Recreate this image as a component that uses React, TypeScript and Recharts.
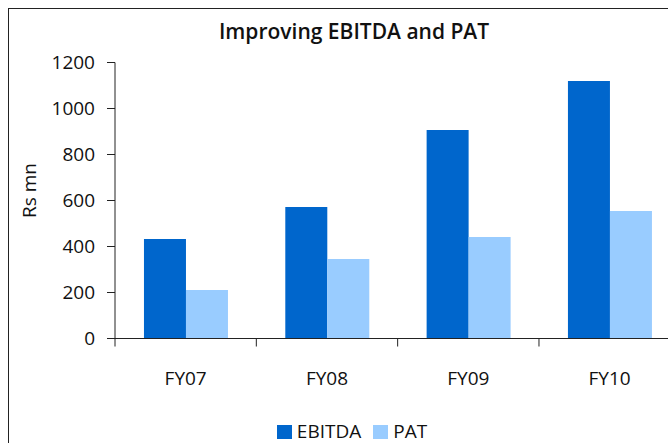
import { BarChart, Bar, XAxis, YAxis } from 'recharts';

const years = ['FY07', 'FY08', 'FY09', 'FY10'];
const ebitda = [433, 572, 906, 1120];
const pat = [211, 346, 441, 554];
const yTicks = [0, 200, 400, 600, 800, 1000, 1200];

const seriesColors = { EBITDA: '#0066CC', PAT: '#99CCFF' };
const FONT = '"Open Sans", "DejaVu Sans", sans-serif';
const INK = '#111111';

const data = years.map((year, i) => ({ year, EBITDA: ebitda[i], PAT: pat[i] }));

// Excel-style category ticks: tick marks sit between categories, labels in the middle
const CategoryTick = (props: any) => {
  const { x, y, payload } = props;
  const half = payload?.offset ?? 70.65;
  return (
    <g>
      <line x1={x - half} x2={x - half} y1={y - 8} y2={y} stroke="#222" strokeWidth={1} />
      <text
        x={x}
        y={y + 31}
        textAnchor="middle"
        dominantBaseline="central"
        fill={INK}
        fontSize={19}
        fontFamily={FONT}
      >
        {payload.value}
      </text>
    </g>
  );
};

const AxisTitle = (props: any) => {
  const { x, y, height } = props.viewBox;
  const cx = x + 19.5;
  const cy = y + height / 2 - 10;
  return (
    <text
      x={cx}
      y={cy}
      transform={`rotate(-90 ${cx} ${cy})`}
      textAnchor="middle"
      dominantBaseline="central"
      fill={INK}
      fontSize={19}
      fontFamily={FONT}
    >
      Rs mn
    </text>
  );
};

export default function App() {
  return (
    <div style={{ position: 'fixed', left: 0, top: 0, width: 668, height: 443, overflow: 'hidden', background: '#fff' }}>
      <div
        style={{
          position: 'absolute',
          left: 8,
          top: 8,
          width: 720,
          height: 480,
          border: '1px solid #222',
          fontFamily: FONT,
        }}
      >
        <div
          style={{
            position: 'absolute',
            left: 0,
            width: 690,
            top: 8,
            textAlign: 'center',
            fontSize: 21,
            fontWeight: 600,
            color: INK,
          }}
        >
          Improving EBITDA and PAT
        </div>
        <div style={{ position: 'absolute', left: 0, top: 0 }}>
          <BarChart
            width={700}
            height={460}
            data={data}
            margin={{ top: 53.5, right: 28.7, bottom: 100.5, left: 0 }}
            barCategoryGap="20.5%"
            barGap={0}
          >
            <XAxis
              dataKey="year"
              height={30}
              tickLine={false}
              tickSize={8}
              tickMargin={0}
              axisLine={{ stroke: '#222' }}
              tick={<CategoryTick />}
              interval={0}
            />
            <YAxis
              width={106}
              domain={[0, 1200]}
              ticks={yTicks}
              tickSize={8}
              tickMargin={12}
              axisLine={{ stroke: '#222' }}
              tickLine={{ stroke: '#222' }}
              tick={{ fill: INK, fontSize: 19, fontFamily: FONT }}
              label={{ content: AxisTitle }}
            />
            <Bar dataKey="EBITDA" fill={seriesColors.EBITDA} isAnimationActive={false} />
            <Bar dataKey="PAT" fill={seriesColors.PAT} isAnimationActive={false} />
          </BarChart>
        </div>
        <div
          style={{
            position: 'absolute',
            left: 0,
            width: 686,
            top: 413,
            display: 'flex',
            justifyContent: 'center',
            alignItems: 'center',
            fontSize: 19,
            lineHeight: '19px',
            color: INK,
          }}
        >
          {Object.entries(seriesColors).map(([name, color], i) => (
            <div key={name} style={{ display: 'flex', alignItems: 'center', marginLeft: i ? 12 : 0 }}>
              <span style={{ display: 'inline-block', width: 15, height: 14, background: color, marginRight: 5 }} />
              <span>{name}</span>
            </div>
          ))}
        </div>
      </div>
    </div>
  );
}
